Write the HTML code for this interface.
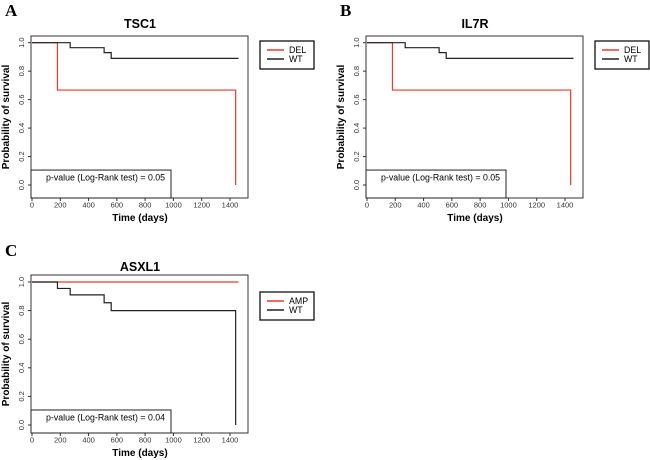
<!DOCTYPE html>
<html><head><meta charset="utf-8"><style>
html,body{margin:0;padding:0;background:#fff;}
svg{display:block;font-family:"Liberation Sans",Arial,sans-serif;}
.pl{font-family:"Liberation Serif",serif;font-weight:bold;font-size:17px;}
</style></head><body>
<svg id="fig" width="650" height="460" viewBox="0 0 650 460"></svg>
<script>
const xTicks=[0,200,400,600,800,1000,1200,1400];
const yTicks=[0,0.2,0.4,0.6,0.8,1.0];
const yTickLabels=["0.0","0.2","0.4","0.6","0.8","1.0"];
const panelTitles=["TSC1","IL7R","ASXL1"];
const panelLetters=["A","B","C"];
const groupNames=[["DEL","WT"],["DEL","WT"],["AMP","WT"]];
const pValues=["0.05","0.05","0.04"];
// step curves: times and survival values
const tscDelT=[0,180,1440,1440];const tscDelS=[1,0.667,0.667,0];
const tscWtT=[0,270,510,560,1460];const tscWtS=[1,0.965,0.93,0.89,0.89];
const il7DelT=[0,180,1440,1440];const il7DelS=[1,0.667,0.667,0];
const il7WtT=[0,270,510,560,1460];const il7WtS=[1,0.965,0.93,0.89,0.89];
const asxAmpT=[0,1460];const asxAmpS=[1,1];
const asxWtT=[0,180,270,510,560,1440,1440];const asxWtS=[1,0.955,0.91,0.855,0.80,0.80,0];

const svg=document.getElementById('fig');
const NS="http://www.w3.org/2000/svg";
function mk(tag,attrs,parent,text){const e=document.createElementNS(NS,tag);for(const k in attrs)e.setAttribute(k,attrs[k]);if(text!==undefined)e.textContent=text;(parent||svg).appendChild(e);return e;}

const panels=[
 {dx:0,dy:0,curves:[[tscDelT,tscDelS,"#e8392f"],[tscWtT,tscWtS,"#222"]]},
 {dx:335,dy:0,curves:[[il7DelT,il7DelS,"#e8392f"],[il7WtT,il7WtS,"#222"]]},
 {dx:0,dy:240,curves:[[asxAmpT,asxAmpS,"#e8392f"],[asxWtT,asxWtS,"#222"]]}
];
panels.forEach((p,i)=>{
 const g=mk('g',{transform:`translate(${p.dx},${p.dy})`});
 
 
 const x=v=>32+v*(198/1400);
 const y=v=>185-v*142.3;
 const L=mk('text',{x:5,y:16,class:'pl'},g,panelLetters[i]);
 
 const t=mk('text',{x:140,y:i==2?31:28,'text-anchor':'middle','font-size':12.5,'font-weight':'bold'},g,panelTitles[i]);
 
 const top=i==2?35:36, bot=i==2?193:198;
 const yy=i==2?(v=>185-v*143):y;
 const box=mk('rect',{x:31,y:top,width:217,height:bot-top,fill:'none',stroke:'#333','stroke-width':1},g);
 
 xTicks.forEach(v=>{mk('line',{x1:x(v),x2:x(v),y1:bot,y2:bot+3,stroke:'#333'},g);
  const tl=mk('text',{x:x(v),y:bot+9.5,'text-anchor':'middle','font-size':7.5,fill:'#333'},g,String(v));
  });
 yTicks.forEach((v,k)=>{mk('line',{x1:28,x2:31,y1:yy(v),y2:yy(v),stroke:'#333'},g);
  const tl=mk('text',{x:24,y:yy(v),'text-anchor':'middle','font-size':7.5,fill:'#333',transform:`rotate(-90 24 ${yy(v)})`},g,yTickLabels[k]);
  });
 const xt=mk('text',{x:140,y:bot+23,'text-anchor':'middle','font-size':10,'font-weight':'bold'},g,'Time (days)');
 
 const ym=(top+bot)/2;
 const yt=mk('text',{x:9,y:ym,'text-anchor':'middle','font-size':10,'font-weight':'bold',transform:`rotate(-90 9 ${ym})`},g,'Probability of survival');
 
 p.curves.forEach((c,ci)=>{
  const [T,S,col]=c;let d=`M${x(T[0])},${yy(S[0])}`;
  for(let k=1;k<T.length;k++){d+=` L${x(T[k])},${yy(S[k-1])} L${x(T[k])},${yy(S[k])}`;}
  const pa=mk('path',{d:d,fill:'none',stroke:col,'stroke-width':1.2},g);
  
  
 });
 const pb=yy(0.105);
 const pbox=mk('rect',{x:31,y:pb,width:140,height:bot-pb,fill:'#fff',stroke:'#222','stroke-width':1},g);
 
 const pt=mk('text',{x:46,y:yy(0.03),'font-size':8.8},g,'p-value (Log-Rank test) =  '+pValues[i]);
 
 const ly=i==2?52:41;
 const lg=mk('rect',{x:260,y:ly,width:54,height:28,fill:'#fff',stroke:'#111','stroke-width':1.3},g);
 
 groupNames[i].forEach((n,k)=>{
  const yl=ly+9+k*9;
  mk('line',{x1:267,x2:284,y1:yl,y2:yl,stroke:k==0?'#e8392f':'#222','stroke-width':1.6},g);
  const lt=mk('text',{x:289,y:yl+3.2,'font-size':8.8},g,n);
  
 });
});
</script>
</body></html>
